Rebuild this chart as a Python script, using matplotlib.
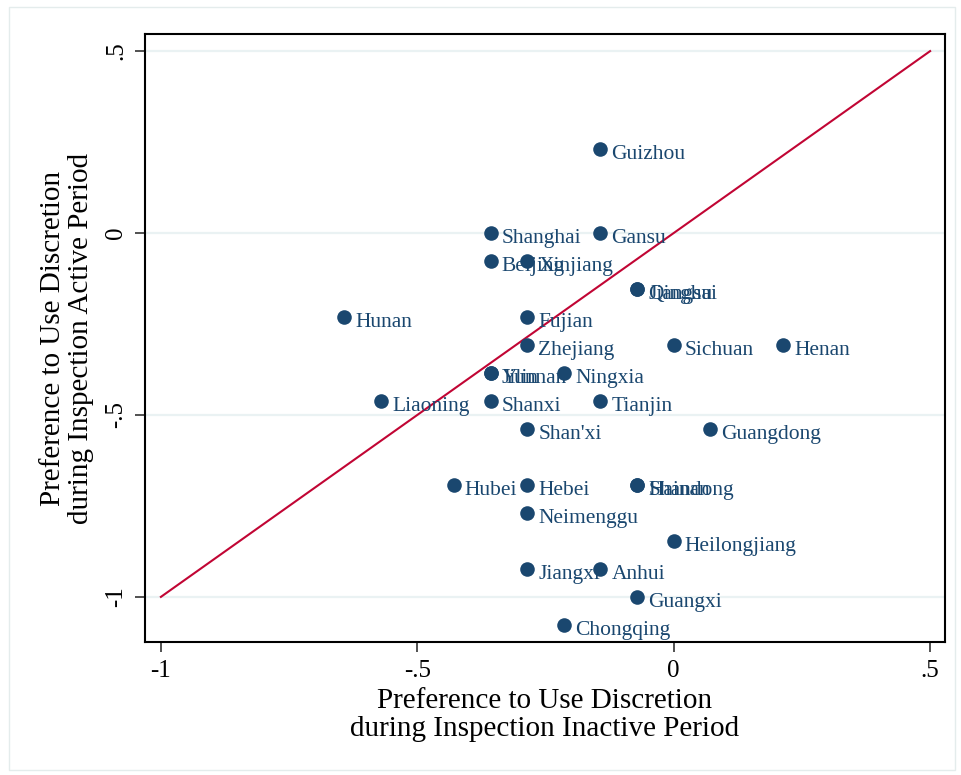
import matplotlib
matplotlib.use("Agg")
import matplotlib.pyplot as plt
from matplotlib.patches import Rectangle

provinces = ["Guizhou", "Shanghai", "Gansu", "Beijing", "Xinjiang", "Qinghai", "Jiangsu",
             "Hunan", "Fujian", "Zhejiang", "Sichuan", "Henan", "Jilin", "Yunnan", "Ningxia",
             "Liaoning", "Shanxi", "Tianjin", "Shan'xi", "Guangdong", "Hubei", "Hebei",
             "Shandong", "Hainan", "Neimenggu", "Heilongjiang", "Jiangxi", "Anhui",
             "Guangxi", "Chongqing"]
inactive = [-0.143, -0.357, -0.143, -0.357, -0.286, -0.071, -0.071,
            -0.643, -0.286, -0.286, 0.0, 0.214, -0.357, -0.357, -0.214,
            -0.571, -0.357, -0.143, -0.286, 0.071, -0.429, -0.286,
            -0.071, -0.071, -0.286, 0.0, -0.286, -0.143,
            -0.071, -0.214]
active = [0.231, 0.0, 0.0, -0.077, -0.077, -0.154, -0.154,
          -0.231, -0.231, -0.308, -0.308, -0.308, -0.385, -0.385, -0.385,
          -0.462, -0.462, -0.462, -0.538, -0.538, -0.692, -0.692,
          -0.692, -0.692, -0.769, -0.846, -0.923, -0.923,
          -1.0, -1.077]
ticks = [-1, -0.5, 0, 0.5]
tick_labels = ["-1", "-.5", "0", ".5"]

plt.rcParams['font.family'] = ['Liberation Serif', 'DejaVu Serif']

fig = plt.figure(figsize=(9.61, 7.75), dpi=100)
fig.patches.append(Rectangle((9/961, 5/775), 946/961, 763/775, transform=fig.transFigure,
                             fill=False, edgecolor='#e4ecec', linewidth=1.0))
ax = fig.add_axes([145/961, 133/775, 800/961, 608/775])

ax.set_xlim(-1.031, 0.529)
ax.set_ylim(-1.124, 0.547)

for t in ticks:
    ax.axhline(t, color='#eaf2f3', linewidth=1.6, zorder=0)

ax.plot([-1, 0.5], [-1, 0.5], color='#c10534', linewidth=1.5, zorder=2)
ax.scatter(inactive, active, s=110, color='#1a476f', zorder=3, linewidths=0)
for name, x, y in zip(provinces, inactive, active):
    ax.annotate(name, (x, y), xytext=(8, -4), textcoords='offset points',
                ha='left', va='center', fontsize=15.5, color='#1a476f', zorder=4)

ax.set_xticks(ticks)
ax.set_xticklabels(tick_labels)
ax.set_yticks(ticks)
ax.set_yticklabels(tick_labels, rotation=90, va='center')
ax.tick_params(axis='both', direction='out', length=7, width=1.2, color='#333333',
               labelsize=18, pad=6)
for s in ax.spines.values():
    s.set_linewidth(1.5)
    s.set_color('black')

ax.set_xlabel("Preference to Use Discretion\nduring Inspection Inactive Period",
              fontsize=21, linespacing=1.12, labelpad=4)
ax.set_ylabel("Preference to Use Discretion\nduring Inspection Active Period",
              fontsize=21, linespacing=1.08, labelpad=8)

fig.savefig("out.png", dpi=100)
